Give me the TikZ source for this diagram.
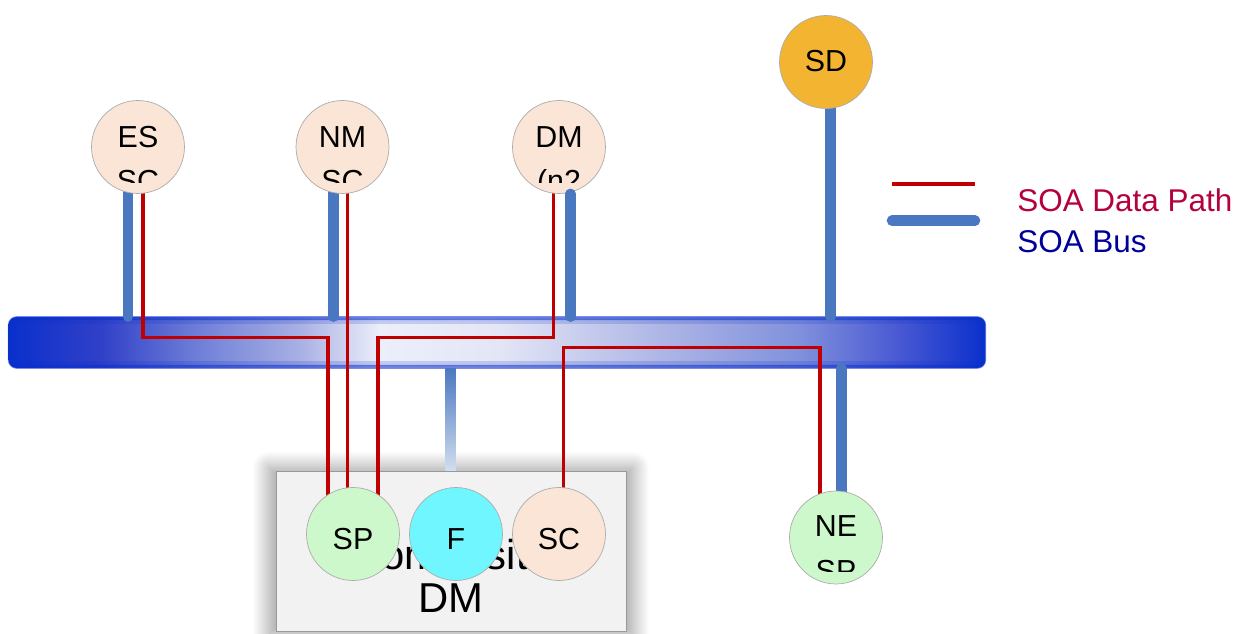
\documentclass[tikz,border=0pt]{standalone}
\usepackage{fontspec}
\setmainfont{Liberation Sans}
\usetikzlibrary{calc,shadows.blur}
\definecolor{peach}{HTML}{FBE5D6}
\definecolor{lgreen}{HTML}{CCF8CC}
\definecolor{fcyan}{HTML}{70F6FF}
\definecolor{sdorange}{HTML}{F3B431}
\definecolor{busblue}{HTML}{4A78C0}
\definecolor{dpred}{HTML}{C00000}
\definecolor{busdark}{HTML}{0A30CC}
\definecolor{busa}{HTML}{3040C8}
\definecolor{busb}{HTML}{7080D8}
\definecolor{busc}{HTML}{A8B0E4}
\definecolor{busd}{HTML}{ECEEFA}
\definecolor{buse}{HTML}{E4E6F6}
\definecolor{busf}{HTML}{B0B8E6}
\definecolor{busg}{HTML}{8090DC}
\definecolor{bush}{HTML}{4858D2}
\definecolor{legred}{HTML}{B4003C}
\definecolor{legblue}{HTML}{000099}
\definecolor{boxfill}{HTML}{F2F2F2}
\pgfdeclarehorizontalshading{busshade}{100bp}{color(0bp)=(busdark); color(25bp)=(busdark); color(29.7bp)=(busa); color(34.8bp)=(busb); color(39.9bp)=(busc); color(44bp)=(busd); color(50bp)=(buse); color(58bp)=(busf); color(65.5bp)=(busg); color(70.6bp)=(bush); color(75bp)=(busdark); color(100bp)=(busdark)}
\pgfdeclarelayer{base}
\pgfdeclarelayer{conn}
\pgfsetlayers{base,conn,main}
\newcommand\circfont{\fontsize{17.3pt}{20pt}\selectfont}
\newcommand\boxfont{\fontsize{23.8pt}{27pt}\selectfont}
\newcommand\legfont{\fontsize{17.9pt}{21pt}\selectfont}
\begin{document}
\begin{tikzpicture}[x=0.02cm,y=-0.02cm,
  circ/.style={circle, draw=gray!65, line width=0.4pt, minimum size=1.86cm, inner sep=0pt},
  lbl/.style={font=\circfont, inner sep=0pt, anchor=base},
  boxlbl/.style={font=\boxfont, inner sep=0pt, anchor=base},
  legtext/.style={font=\legfont, inner sep=0pt, anchor=base west},
  busline/.style={draw=busblue, line width=6pt, line cap=round},
  datapath/.style={draw=dpred, line width=2pt},
  busbar/.style={shade, shading=busshade, rounded corners=0.16cm, minimum width=19.54cm, minimum height=1.02cm, inner sep=0pt},
  cbox/.style={fill=boxfill, draw=gray!80, line width=0.5pt, minimum width=7cm, minimum height=3.2cm, inner sep=0pt,
    blur shadow={shadow xshift=0pt, shadow yshift=0pt, shadow blur radius=9pt, shadow opacity=40, shadow scale=1.04, shadow blur steps=20}}
]
\useasboundingbox (0,0) rectangle (1242,634);

\begin{pgfonlayer}{base}
  \node[busbar] (bus) at (497,342.5) {};
  \draw[busdark, line width=2.2pt, draw opacity=0.55, rounded corners=0.14cm]
    ($(bus.south west)+(1.5,-1.5)$) rectangle ($(bus.north east)+(-1.5,1.5)$);
  \draw[busdark, line width=3pt, draw opacity=0.18, rounded corners=0.12cm]
    ($(bus.south west)+(4.5,-4.5)$) rectangle ($(bus.north east)+(-4.5,4.5)$);
  \node[cbox] (box) at (451,551) {};
  \node[boxlbl] (boxl1) at (451,570) {Composite};
  \node[boxlbl] (boxl2) at (451,613) {DM};
\end{pgfonlayer}

% circles
\node[circ, fill=peach] (es) at (138,147) {};
\node[circ, fill=peach] (nm) at (342.5,147) {};
\node[circ, fill=peach] (dm) at (559,147) {};
\node[circ, fill=sdorange] (sd) at (826,62) {};
\node[circ, fill=lgreen] (sp) at (353,534) {};
\node[circ, fill=fcyan] (f) at (456,534) {};
\node[circ, fill=peach] (sc) at (559,534) {};
\node[circ, fill=lgreen] (ne) at (836,537.5) {};

% labels
\begin{scope}
  \clip ($(es.center)+(-47,-60)$) rectangle ($(es.center)+(47,36)$);
  \node[lbl] (es-t1) at ($(es.center)+(0,1)$) {ES};
  \node[lbl] (es-t2) at ($(es.center)+(0,45)$) {SC};
\end{scope}
\begin{scope}
  \clip ($(nm.center)+(-47,-60)$) rectangle ($(nm.center)+(47,36)$);
  \node[lbl] (nm-t1) at ($(nm.center)+(0,1)$) {NM};
  \node[lbl] (nm-t2) at ($(nm.center)+(0,45)$) {SC};
\end{scope}
\begin{scope}
  \clip ($(dm.center)+(-47,-60)$) rectangle ($(dm.center)+(47,36)$);
  \node[lbl] (dm-t1) at ($(dm.center)+(0,1)$) {DM};
  \node[lbl] (dm-t2) at ($(dm.center)+(0,45)$) {(n2};
\end{scope}
\begin{scope}
  \clip ($(ne.center)+(-47,-60)$) rectangle ($(ne.center)+(47,34.5)$);
  \node[lbl] (ne-t1) at ($(ne.center)+(0,-0.5)$) {NE};
  \node[lbl] (ne-t2) at ($(ne.center)+(0,44.5)$) {SP};
\end{scope}
\node[lbl] (sd-t) at ($(sd.center)+(0,10)$) {SD};
\node[lbl] (sp-t) at ($(sp.center)+(0,16)$) {SP};
\node[lbl] (f-t) at ($(f.center)+(0,16)$) {F};
\node[lbl] (sc-t) at ($(sc.center)+(0,16)$) {SC};

% connection points
\coordinate (d1) at (0,337.5);
\coordinate (d2) at (0,347.5);
\coordinate (es-o) at ($(es.center)+(5,0)$);
\coordinate (nm-o) at ($(nm.center)+(5,0)$);
\coordinate (dm-o) at ($(dm.center)+(-5.7,0)$);
\coordinate (sp-i1) at ($(sp.center)+(-25,0)$);
\coordinate (sp-i3) at ($(sp.center)+(25,0)$);
\coordinate (sc-o) at ($(sc.center)+(4.5,0)$);
\coordinate (ne-i) at ($(ne.center)+(-16,0)$);
\coordinate (es-b) at ($(es.center)+(-10,0)$);
\coordinate (nm-b) at ($(nm.center)+(-9,0)$);
\coordinate (sd-b) at ($(sd.center)+(4.5,0)$);
\coordinate (ne-b) at ($(ne.center)+(5.3,0)$);
\coordinate (dm-b) at ($(dm.south)+(11.5,0)$);
\coordinate (fs) at (450.5,0);

\begin{pgfonlayer}{conn}
  % bus stubs
  \draw[busline] (es-b) -- (es-b |- bus.north);
  \draw[busline] (nm-b) -- (nm-b |- bus.north);
  \draw[busline] (sd-b) -- (sd-b |- bus.north);
  \draw[busline] (ne-b |- bus.south) -- (ne-b);
  \shade[top color=busblue, bottom color=busblue!25!white]
    ($(bus.south -| fs)+(-5.25,0)$) rectangle ($(box.north -| fs)+(5.25,0)$);
  % data paths
  \draw[datapath] (es-o) |- (sp-i1 |- d1) -- (sp-i1);
  \draw[datapath] (nm-o) -- (nm-o |- sp.center);
  \draw[datapath] (dm-o) |- (sp-i3 |- d1) -- (sp-i3);
  \draw[datapath] (sc-o) |- (ne-i |- d2) -- (ne-i);
\end{pgfonlayer}

\draw[busline] (dm-b) -- (dm-b |- bus.north);

% legend
\coordinate (lr1) at (892,184);
\coordinate (lr2) at (975,184);
\coordinate (lb1) at (892,220.7);
\coordinate (lb2) at (975,220.7);
\draw[datapath, line width=2.1pt] (lr1) -- (lr2);
\draw[busline] (lb1) -- (lb2);
\node[legtext, text=legred] (leg1) at (1017,211.7) {SOA Data Path};
\node[legtext, text=legblue] (leg2) at (1017,252.7) {SOA Bus};
\end{tikzpicture}
\end{document}
